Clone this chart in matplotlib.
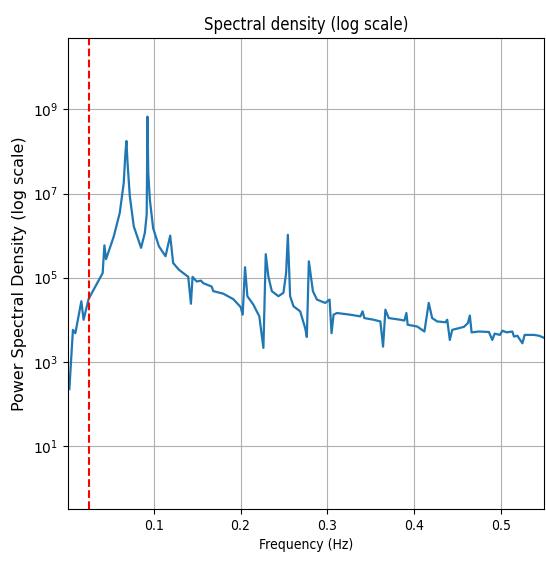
import numpy as np
import matplotlib
matplotlib.use('Agg')
import matplotlib.pyplot as plt

# frequency (Hz) and log10 of the power spectral density
freq = [0.0026, 0.0067, 0.0095, 0.0164, 0.019, 0.0249, 0.041, 0.043, 0.0449, 0.0538,
        0.0607, 0.0653, 0.0672, 0.0684, 0.0698, 0.0723, 0.0769, 0.0853, 0.0896, 0.0918,
        0.0927, 0.0936, 0.0954, 0.0992,
        0.1058, 0.1135, 0.1189, 0.1223, 0.1289, 0.1397, 0.1428, 0.1447, 0.1494, 0.1543,
        0.157, 0.1667, 0.1686, 0.1801, 0.1917, 0.2002, 0.2025, 0.2052, 0.2079, 0.2148,
        0.2217, 0.2264, 0.2291, 0.2321, 0.2361, 0.2437, 0.2495, 0.2526, 0.2546, 0.2572,
        0.2611, 0.2688, 0.2746, 0.2765, 0.2788, 0.2835, 0.2881, 0.2977, 0.3027, 0.305,
        0.3073, 0.3112, 0.3266, 0.3382, 0.3408, 0.3428, 0.3535, 0.3613, 0.3644, 0.3671,
        0.3709, 0.3844, 0.389, 0.3913, 0.3928, 0.4037, 0.4121, 0.4171, 0.421, 0.4268,
        0.4364, 0.4384, 0.4414, 0.4442, 0.4576, 0.4622, 0.4645, 0.4665, 0.4749, 0.4865,
        0.4904, 0.4931, 0.4992, 0.502, 0.5069, 0.5135, 0.5154, 0.5193, 0.5251, 0.5277,
        0.5385, 0.5443, 0.5501]
log_psd = [2.35, 3.76, 3.68, 4.44, 4.0, 4.5, 5.11, 5.77, 5.44, 5.98,
           6.54, 7.25, 7.95, 8.25, 7.7, 6.94, 6.22, 5.71, 6.06, 6.5,
           8.83, 7.5, 6.86, 6.18,
           5.75, 5.51, 6.0, 5.35, 5.19, 5.02, 4.38, 5.02, 4.91, 4.93,
           4.87, 4.79, 4.68, 4.62, 4.49, 4.30, 4.12, 5.25, 4.56, 4.36,
           4.08, 3.33, 5.56, 5.03, 4.68, 4.56, 4.64, 5.11, 6.02, 4.56,
           4.32, 4.20, 3.80, 3.59, 5.39, 4.68, 4.48, 4.40, 4.48, 3.68,
           4.12, 4.16, 4.12, 4.08, 4.20, 4.04, 4.0, 3.96, 3.36, 4.24,
           4.04, 4.0, 3.98, 4.16, 3.88, 3.84, 3.72, 4.40, 4.04, 3.96,
           3.94, 4.0, 3.52, 3.76, 3.83, 3.92, 4.10, 3.70, 3.72, 3.71,
           3.52, 3.67, 3.64, 3.74, 3.70, 3.72, 3.60, 3.62, 3.44, 3.64,
           3.64, 3.62, 3.57]
cutoff = 0.025  # red dashed line

psd = 10 ** np.array(log_psd)

fig = plt.figure(figsize=(5.46, 5.67), dpi=100)
ax = fig.add_axes([0.1245, 0.1023, 0.8718, 0.8307])
ax.plot(freq, psd, color='#1f77b4', linewidth=1.6)
ax.axvline(cutoff, color='red', linestyle='--', linewidth=1.5)
ax.set_yscale('log')
ax.set_xlim(0.001, 0.55)
ax.set_ylim(10 ** -0.5, 10 ** 10.7)
ax.set_xticks([0.1, 0.2, 0.3, 0.4, 0.5])
ax.set_yticks([1e1, 1e3, 1e5, 1e7, 1e9])
ax.minorticks_off()
ax.grid(True)
ax.set_title('Spectral density (log scale)', fontstretch='condensed', fontsize=12)
ax.set_xlabel('Frequency (Hz)', fontstretch='condensed')
ax.set_ylabel('Power Spectral Density (log scale)', fontsize=11.5)
for lbl in ax.get_xticklabels():
    lbl.set_fontstretch('condensed')

fig.savefig('out.png', dpi=100)
